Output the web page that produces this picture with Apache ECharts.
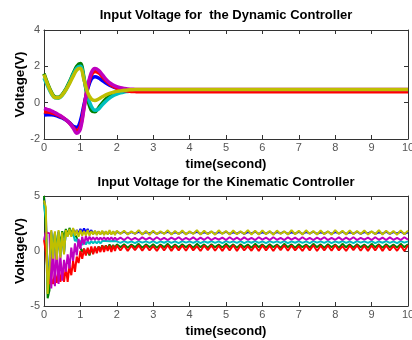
<!DOCTYPE html>
<html><head><meta charset="utf-8">
<script src="https://cdn.jsdelivr.net/npm/echarts@6/dist/echarts.min.js"></script>
<style>html,body{margin:0;padding:0;background:#fff}#c{width:412px;height:340px}</style>
</head><body><div id="c"></div>
<script>
// ---------- data ----------
const titleTop = 'Input Voltage for  the Dynamic Controller';
const titleBottom = 'Input Voltage for the Kinematic Controller';
const xName = 'time(second)';
const yName = 'Voltage(V)';
const xTicks = [0,1,2,3,4,5,6,7,8,9,10];
const yTicksTop = [-2,0,2,4];
const yTicksBottom = [-5,0,5];
const seriesColors = {blue:'#0000ff', green:'#008000', cyan:'#00bfbf', magenta:'#bf00bf', red:'#ff0000', yellow:'#bfbf00'};

// Dynamic controller (top) time points
const tD = [0,0.1,0.2,0.3,0.4,0.5,0.6,0.7,0.8,0.9,1.0,1.1,1.2,1.3,1.4,1.5,1.6,1.7,1.8,1.9,2.0,
            2.1,2.2,2.3,2.4,2.5,2.6,2.7,2.8,2.9,3.0,4,5,6,7,8,9,10];
const dynBlue    = [-0.68,-0.66,-0.66,-0.7,-0.76,-0.84,-0.95,-1.1,-1.3,-1.35,-1.0,-0.1,0.75,1.3,1.43,1.36,1.22,1.08,0.96,0.87,0.8,
                    0.75,0.72,0.69,0.68,0.67,0.66,0.66,0.66,0.66,0.66,0.66,0.66,0.66,0.66,0.66,0.66,0.66];
const dynGreen   = [1.6,1.05,0.6,0.32,0.3,0.45,0.75,1.15,1.6,2.0,2.15,1.35,0.2,-0.42,-0.5,-0.28,-0.02,0.2,0.36,0.47,0.54,
                    0.59,0.63,0.65,0.67,0.68,0.69,0.7,0.7,0.7,0.7,0.7,0.7,0.7,0.7,0.7,0.7,0.7];
const dynCyan    = [1.35,0.9,0.5,0.27,0.25,0.4,0.7,1.1,1.55,1.9,2.0,1.3,0.35,-0.2,-0.42,-0.35,-0.12,0.08,0.25,0.38,0.47,
                    0.54,0.59,0.62,0.65,0.66,0.67,0.68,0.68,0.68,0.68,0.68,0.68,0.68,0.68,0.68,0.68,0.68];
const dynRed     = [-0.5,-0.52,-0.56,-0.62,-0.7,-0.8,-0.94,-1.12,-1.36,-1.55,-1.3,-0.25,0.85,1.52,1.72,1.64,1.44,1.22,1.04,0.9,0.8,
                    0.72,0.67,0.64,0.62,0.61,0.6,0.6,0.6,0.6,0.6,0.6,0.6,0.6,0.6,0.6,0.6,0.6];
const dynMagenta = [-0.32,-0.38,-0.45,-0.55,-0.66,-0.78,-0.93,-1.12,-1.4,-1.68,-1.45,-0.3,0.9,1.65,1.88,1.78,1.55,1.3,1.1,0.97,0.88,
                    0.82,0.78,0.75,0.74,0.73,0.72,0.72,0.72,0.72,0.72,0.72,0.72,0.72,0.72,0.72,0.72,0.72];
const dynYellow  = [1.55,1.0,0.55,0.28,0.27,0.42,0.7,1.05,1.45,1.8,1.9,1.25,0.55,0.2,0.12,0.2,0.32,0.43,0.51,0.57,0.62,
                    0.65,0.68,0.7,0.71,0.72,0.72,0.72,0.72,0.72,0.72,0.72,0.72,0.72,0.72,0.72,0.72,0.72];

// Kinematic controller (bottom) time points
const tK = [0,0.05,0.1,0.15,0.2,0.25,0.3,0.35,0.4,0.45,0.5,0.55,0.6,0.65,0.7,0.75,0.8,0.85,0.9,0.95,1.0,
            1.05,1.1,1.15,1.2,1.25,1.3,1.35,1.4,1.45,1.5,1.55,1.6,1.65,1.7,1.75,1.8,1.85,1.9,1.95,2.0,
            2.1,2.2,2.3,2.4,2.5,2.6,2.7,2.8,2.9,3.0,
            3.1,3.2,3.3,3.4,3.5,3.6,3.7,3.8,3.9,4.0,
            4.1,4.2,4.3,4.4,4.5,4.6,4.7,4.8,4.9,5.0,
            5.1,5.2,5.3,5.4,5.5,5.6,5.7,5.8,5.9,6.0,
            6.1,6.2,6.3,6.4,6.5,6.6,6.7,6.8,6.9,7.0,
            7.1,7.2,7.3,7.4,7.5,7.6,7.7,7.8,7.9,8.0,
            8.1,8.2,8.3,8.4,8.5,8.6,8.7,8.8,8.9,9.0,
            9.1,9.2,9.3,9.4,9.5,9.6,9.7,9.8,9.9,10.0];
const kinBlue = [4.8,3.5,-3.0,-1.0,1.8,-0.6,1.7,-0.7,1.8,-0.5,1.6,-0.2,1.8,1.4,1.9,1.4,2.0,1.5,1.9,1.6,2.0,
                 1.7,2.05,1.7,2.0,1.6,1.9,1.55,1.8,1.55,1.75,1.55,1.75,1.55,1.75,1.55,1.75,1.55,1.75,1.55,1.75,
                 1.6,1.75,1.55,1.72,1.58,1.75,1.55,1.7,1.6,1.75,
                 1.55,1.72,1.6,1.75,1.55,1.7,1.58,1.75,1.55,1.72,
                 1.6,1.75,1.55,1.7,1.58,1.75,1.55,1.72,1.6,1.75,
                 1.55,1.7,1.58,1.75,1.55,1.72,1.6,1.75,1.55,1.7,
                 1.58,1.75,1.55,1.72,1.6,1.75,1.55,1.7,1.58,1.75,
                 1.55,1.72,1.6,1.75,1.55,1.7,1.58,1.75,1.55,1.72,
                 1.6,1.75,1.55,1.7,1.58,1.75,1.55,1.72,1.6,1.75,
                 1.55,1.7,1.58,1.75,1.55,1.72,1.6,1.75,1.55,1.7];
const kinGreen = [5.0,2.0,-4.3,-3.6,1.5,0.0,1.6,0.2,1.7,0.5,1.8,1.2,2.0,1.5,2.1,1.6,1.9,1.5,1.2,0.6,0.3,
                  -0.1,0.2,-0.3,0.1,-0.4,0.2,-0.2,0.3,0.0,0.4,0.1,0.5,0.2,0.5,0.2,0.6,0.3,0.55,0.3,0.6,
                  0.35,0.62,0.3,0.58,0.35,0.65,0.3,0.6,0.35,0.62,
                  0.3,0.58,0.35,0.65,0.3,0.6,0.32,0.62,0.35,0.58,
                  0.3,0.65,0.35,0.6,0.3,0.62,0.35,0.58,0.32,0.65,
                  0.35,0.6,0.3,0.62,0.35,0.58,0.3,0.65,0.35,0.6,
                  0.32,0.62,0.35,0.58,0.3,0.65,0.35,0.6,0.3,0.62,
                  0.35,0.58,0.32,0.65,0.35,0.6,0.3,0.62,0.35,0.58,
                  0.3,0.65,0.35,0.6,0.32,0.62,0.35,0.58,0.3,0.65,
                  0.35,0.6,0.3,0.62,0.35,0.58,0.32,0.65,0.35,0.6];
const kinCyan = [4.2,3.0,-3.5,-1.2,1.7,-0.5,1.6,-0.6,1.7,-0.4,1.5,-0.1,1.7,1.4,1.8,1.4,1.6,0.9,1.1,0.5,0.95,
                 0.55,0.9,0.6,0.9,0.65,0.9,0.7,0.9,0.7,0.9,0.7,0.9,0.72,0.9,0.72,0.88,0.75,0.9,0.75,0.88,
                 0.74,0.9,0.75,0.88,0.72,0.9,0.76,0.88,0.74,0.9,
                 0.72,0.88,0.75,0.9,0.74,0.88,0.72,0.9,0.76,0.88,
                 0.74,0.9,0.72,0.88,0.75,0.9,0.74,0.88,0.72,0.9,
                 0.76,0.88,0.74,0.9,0.72,0.88,0.75,0.9,0.74,0.88,
                 0.72,0.9,0.76,0.88,0.74,0.9,0.72,0.88,0.75,0.9,
                 0.74,0.88,0.72,0.9,0.76,0.88,0.74,0.9,0.72,0.88,
                 0.75,0.9,0.74,0.88,0.72,0.9,0.76,0.88,0.74,0.9,
                 0.72,0.88,0.75,0.9,0.74,0.88,0.72,0.9,0.76,0.88];
const kinRed = [1.0,0.0,-2.0,-3.0,-2.5,-3.0,-2.0,-2.9,-1.8,-2.8,-1.6,-2.8,-1.5,-2.8,-1.3,-2.2,-0.9,-1.9,-0.5,-1.1,0.0,
                -0.7,0.2,-0.4,0.3,-0.3,0.4,-0.3,0.4,-0.2,0.4,-0.1,0.5,-0.1,0.5,0.0,0.5,-0.1,0.5,0.0,0.5,
                0.05,0.5,0.0,0.48,0.08,0.52,0.02,0.5,0.05,0.45,
                0.0,0.5,0.06,0.52,0.0,0.48,0.05,0.5,0.02,0.52,
                0.05,0.45,0.0,0.5,0.08,0.52,0.02,0.48,0.0,0.5,
                0.06,0.52,0.0,0.5,0.05,0.45,0.02,0.5,0.0,0.52,
                0.05,0.48,0.0,0.5,0.08,0.52,0.02,0.5,0.05,0.45,
                0.0,0.5,0.06,0.52,0.0,0.48,0.05,0.5,0.02,0.52,
                0.05,0.45,0.0,0.5,0.08,0.52,0.02,0.48,0.0,0.5,
                0.06,0.52,0.0,0.5,0.05,0.45,0.02,0.5,0.0,0.52];
const kinMagenta = [1.0,1.7,1.8,1.6,-3.4,0.2,-3.2,0.4,-3.0,-0.4,-2.7,-0.8,-1.9,-0.3,-1.6,0.3,-0.9,0.7,-0.4,1.1,0.2,
                    1.3,0.6,1.35,0.9,1.3,1.0,1.25,1.0,1.25,1.0,1.22,1.02,1.25,1.0,1.22,1.02,1.25,1.0,1.22,1.02,
                    1.22,1.0,1.25,1.02,1.2,1.0,1.24,1.04,1.22,1.0,
                    1.25,1.02,1.2,1.0,1.22,1.04,1.25,1.0,1.2,1.02,
                    1.24,1.0,1.22,1.02,1.25,1.0,1.2,1.04,1.22,1.0,
                    1.25,1.02,1.22,1.0,1.24,1.02,1.2,1.0,1.25,1.04,
                    1.22,1.0,1.25,1.02,1.2,1.0,1.24,1.04,1.22,1.0,
                    1.25,1.02,1.2,1.0,1.22,1.04,1.25,1.0,1.2,1.02,
                    1.24,1.0,1.22,1.02,1.25,1.0,1.2,1.04,1.22,1.0,
                    1.25,1.02,1.22,1.0,1.24,1.02,1.2,1.0,1.25,1.04];
const kinYellow = [4.6,4.0,-3.9,-1.5,1.9,-0.7,1.8,-0.8,1.9,-0.6,1.7,-0.3,1.9,1.3,2.0,1.3,2.1,1.4,1.9,1.3,1.9,
                   1.4,1.8,1.4,1.9,1.4,1.8,1.5,1.85,1.45,1.8,1.5,1.85,1.45,1.8,1.5,1.9,1.5,1.8,1.45,1.85,
                   1.55,1.85,1.5,1.8,1.55,1.9,1.5,1.82,1.48,1.85,
                   1.52,1.8,1.55,1.88,1.5,1.82,1.52,1.86,1.5,1.8,
                   1.55,1.9,1.5,1.84,1.52,1.8,1.48,1.88,1.55,1.82,
                   1.5,1.86,1.52,1.8,1.55,1.9,1.5,1.84,1.5,1.88,
                   1.52,1.82,1.48,1.86,1.55,1.8,1.5,1.9,1.52,1.84,
                   1.5,1.88,1.55,1.82,1.5,1.86,1.52,1.8,1.48,1.9,
                   1.55,1.84,1.5,1.88,1.52,1.82,1.55,1.86,1.5,1.8,
                   1.52,1.9,1.5,1.84,1.55,1.82,1.48,1.88,1.52,1.85];

// ---------- chart ----------
const FF = '"Liberation Sans", Arial, sans-serif';
const AX = '#333';
const pairs = (t, v) => t.map((x, i) => [x, v[i]]);

function xAx(grid, pos, withLabel) {
  return {
    gridIndex: grid, type: 'value', position: pos, min: xTicks[0], max: xTicks[xTicks.length-1], interval: 1,
    name: withLabel ? xName : '', nameLocation: 'middle', nameGap: 19,
    nameTextStyle: {fontFamily: FF, fontWeight: 'bold', fontSize: 13, color: '#000'},
    axisLine: {show: true, onZero: false, lineStyle: {color: AX, width: 1}},
    axisTick: {show: true, inside: true, length: 4, lineStyle: {color: AX}},
    axisLabel: {show: withLabel, color: '#555', fontSize: 11, fontFamily: FF, margin: 3},
    splitLine: {show: false}
  };
}
function yAx(grid, pos, withLabel, ticks) {
  return {
    gridIndex: grid, type: 'value', position: pos, min: ticks[0], max: ticks[ticks.length-1],
    interval: ticks[1]-ticks[0],
    name: withLabel ? yName : '', nameLocation: 'middle', nameGap: 17, nameMoveOverlap: false,
    nameTextStyle: {fontFamily: FF, fontWeight: 'bold', fontSize: 13.5, color: '#000'},
    axisLine: {show: true, onZero: false, lineStyle: {color: AX, width: 1}},
    axisTick: {show: true, inside: true, length: 4, lineStyle: {color: AX}},
    axisLabel: {show: withLabel, color: '#555', fontSize: 11, fontFamily: FF, margin: 4},
    splitLine: {show: false}
  };
}

const dynSeries = [['blue',dynBlue],['green',dynGreen],['cyan',dynCyan],['red',dynRed],['magenta',dynMagenta],['yellow',dynYellow]];
const kinSeries = [['blue',kinBlue],['green',kinGreen],['cyan',kinCyan],['red',kinRed],['magenta',kinMagenta],['yellow',kinYellow]];

const series = [];
dynSeries.forEach(([c, d]) => series.push({
  type: 'line', xAxisIndex: 0, yAxisIndex: 0, data: pairs(tD, d), showSymbol: false, smooth: 0.35,
  lineStyle: {color: seriesColors[c], width: 3.5}, itemStyle: {color: seriesColors[c]}, silent: true
}));
kinSeries.forEach(([c, d]) => series.push({
  type: 'line', xAxisIndex: 2, yAxisIndex: 2, data: pairs(tK, d), showSymbol: false, smooth: false,
  lineStyle: {color: seriesColors[c], width: 2}, itemStyle: {color: seriesColors[c]}, silent: true
}));

const chart = echarts.init(document.getElementById('c'), null, {renderer: 'canvas'});
chart.setOption({
  animation: false,
  backgroundColor: '#fff',
  grid: [
    {left: 44, top: 30, width: 364, height: 109, containLabel: false, outerBoundsMode: 'none'},
    {left: 44, top: 196, width: 364, height: 110, containLabel: false, outerBoundsMode: 'none'}
  ],
  xAxis: [xAx(0, 'bottom', true), xAx(0, 'top', false), xAx(1, 'bottom', true), xAx(1, 'top', false)],
  yAxis: [yAx(0, 'left', true, yTicksTop), yAx(0, 'right', false, yTicksTop),
          yAx(1, 'left', true, yTicksBottom), yAx(1, 'right', false, yTicksBottom)],
  graphic: [
    {type: 'text', x: 226, y: 15, style: {text: titleTop, align: 'center', verticalAlign: 'middle',
      font: 'bold 13px ' + FF, fill: '#000'}},
    {type: 'text', x: 226, y: 182, style: {text: titleBottom, align: 'center', verticalAlign: 'middle',
      font: 'bold 13px ' + FF, fill: '#000'}}
  ],
  series: series
});
</script>
</body></html>
